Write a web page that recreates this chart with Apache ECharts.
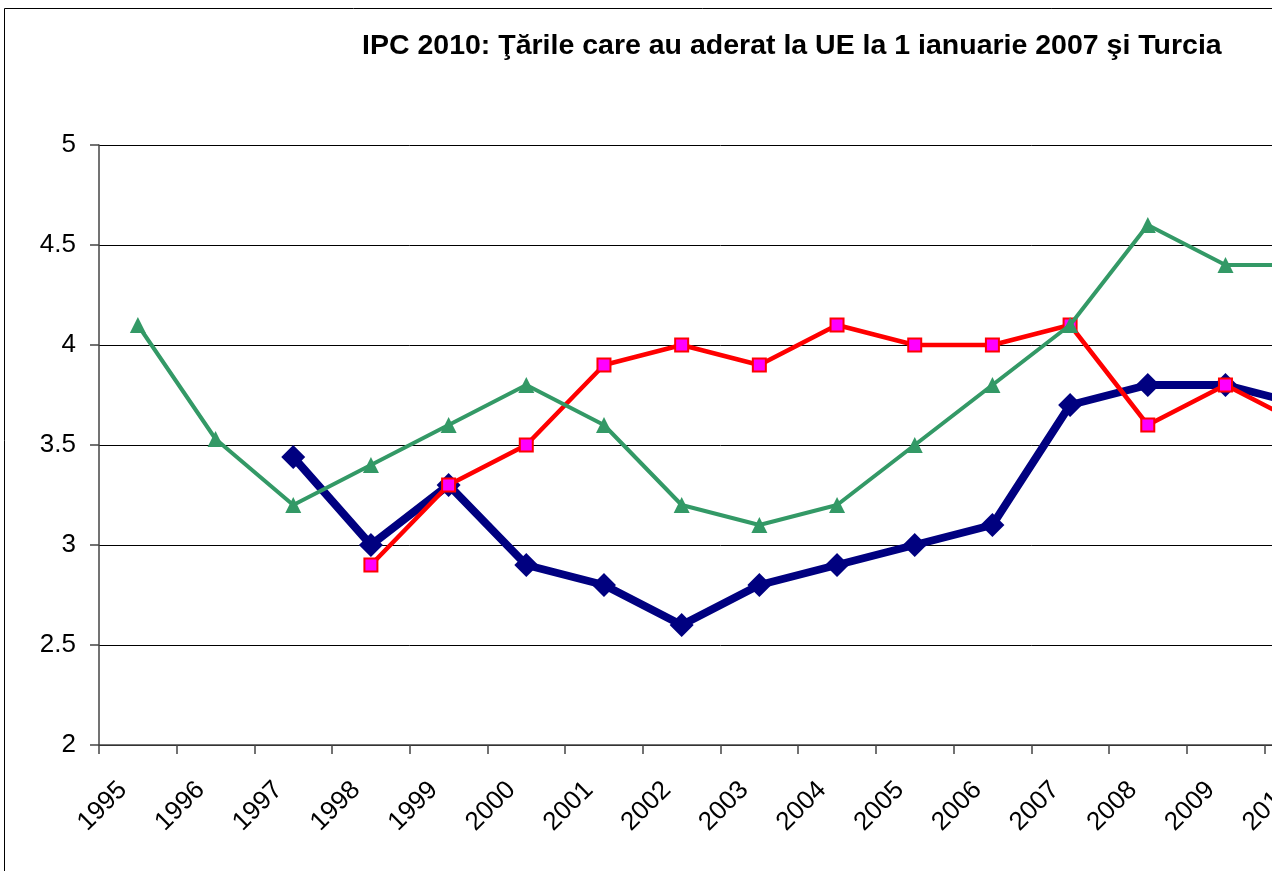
<!DOCTYPE html>
<html>
<head>
<meta charset="utf-8">
<title>IPC 2010</title>
<script src="https://cdn.jsdelivr.net/npm/echarts@6/dist/echarts.min.js"></script>
<style>
  html, body { margin: 0; padding: 0; background: #fff; overflow: hidden; }
  #chart { width: 1400px; height: 871px; }
</style>
</head>
<body>
<div id="chart"></div>
<script>
// categories (years)
const years = ['1995', '1996', '1997', '1998', '1999', '2000', '2001', '2002',
               '2003', '2004', '2005', '2006', '2007', '2008', '2009', '2010'];

// series values
const blueSeries = [null, null, 3.44, 3.0, 3.3, 2.9, 2.8, 2.6, 2.8, 2.9, 3.0, 3.1, 3.7, 3.8, 3.8, 3.7];
const redSeries = [null, null, null, 2.9, 3.3, 3.5, 3.9, 4.0, 3.9, 4.1, 4.0, 4.0, 4.1, 3.6, 3.8, 3.6];
const greenSeries = [4.1, 3.53, 3.2, 3.4, 3.6, 3.8, 3.6, 3.2, 3.1, 3.2, 3.5, 3.8, 4.1, 4.6, 4.4, 4.4];

const yMin = 2;
const yMax = 5;
const yStep = 0.5;

const chart = echarts.init(document.getElementById('chart'));

const option = {
    animation: false,
    backgroundColor: '#fff',
    textStyle: {fontFamily: 'Liberation Sans, Arial, sans-serif'},
    title: {
        text: 'IPC 2010: Ţările care au aderat la UE la 1 ianuarie 2007 şi Turcia',
        left: 357,
        top: 27,
        textStyle: {fontSize: 28.5, fontWeight: 'bold', color: '#000'}
    },
    graphic: [{
        type: 'rect',
        shape: {x: 4.5, y: 8.5, width: 1500, height: 1000},
        style: {fill: 'none', stroke: '#000', lineWidth: 1},
        silent: true
    }],
    grid: {left: 99, top: 145, width: 1243, height: 600, containLabel: false},
    xAxis: {
        type: 'category',
        data: years,
        boundaryGap: true,
        axisLine: {lineStyle: {color: '#444', width: 1.5}},
        axisTick: {show: true, length: 9, lineStyle: {color: '#444', width: 1.5}},
        axisLabel: {rotate: 45, fontSize: 26, color: '#000', margin: 26, interval: 0, padding: [0, 21, 0, 0]}
    },
    yAxis: {
        type: 'value',
        min: yMin,
        max: yMax,
        interval: yStep,
        axisLine: {show: true, lineStyle: {color: '#444', width: 1.5}},
        axisTick: {show: true, length: 9, lineStyle: {color: '#444', width: 1.5}},
        axisLabel: {fontSize: 26, color: '#000', margin: 23},
        splitLine: {lineStyle: {color: '#000', width: 1}}
    },
    series: [
        {
            type: 'line',
            data: blueSeries,
            symbol: 'diamond',
            symbolSize: 24,
            lineStyle: {color: '#000080', width: 8},
            itemStyle: {color: '#000080'},
            z: 2
        },
        {
            type: 'line',
            data: redSeries,
            symbol: 'rect',
            symbolSize: 13,
            lineStyle: {color: '#ff0000', width: 4.5},
            itemStyle: {color: '#ff00ff', borderColor: '#ff0000', borderWidth: 2},
            z: 3
        },
        {
            type: 'line',
            data: greenSeries,
            symbol: 'triangle',
            symbolSize: 16,
            lineStyle: {color: '#339966', width: 4},
            itemStyle: {color: '#339966'},
            z: 4
        }
    ]
};

chart.setOption(option);
</script>
</body>
</html>
